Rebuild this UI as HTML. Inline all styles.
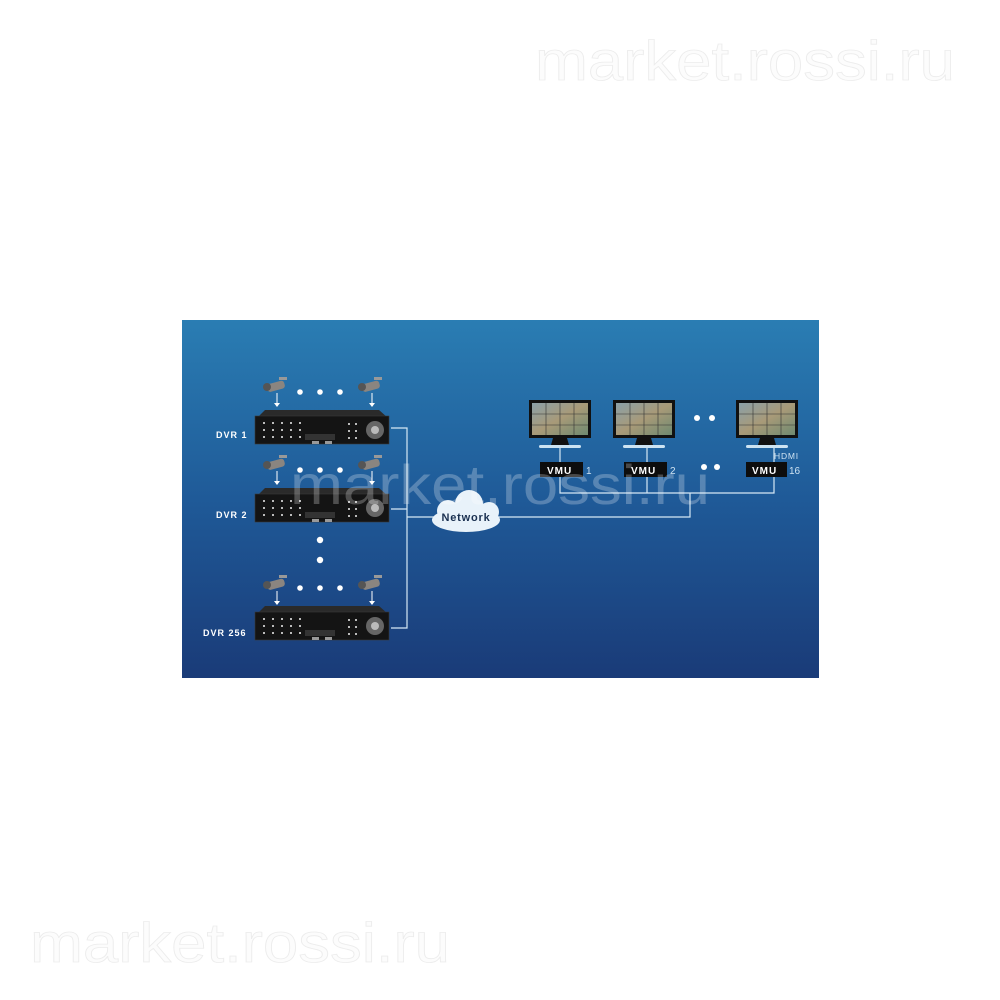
<!DOCTYPE html>
<html><head><meta charset="utf-8"><style>
html,body{margin:0;padding:0;background:#fff;width:1000px;height:1000px;overflow:hidden}
svg{display:block}
</style></head><body>
<svg width="1000" height="1000" viewBox="0 0 1000 1000" xmlns="http://www.w3.org/2000/svg" font-family="Liberation Sans, sans-serif">
<defs>
<linearGradient id="bg" x1="0" y1="0" x2="0" y2="1">
<stop offset="0" stop-color="#2a7db3"/><stop offset="0.5" stop-color="#1f5a98"/><stop offset="1" stop-color="#1a3b78"/>
</linearGradient>
<linearGradient id="scr" x1="0" y1="0" x2="1" y2="1">
<stop offset="0" stop-color="#8aa0a8"/><stop offset="0.5" stop-color="#a89a78"/><stop offset="1" stop-color="#6f8a70"/>
</linearGradient>
<g id="dvr">
<polygon points="2,8 10,0 124,0 133,8" fill="#2a2a2a"/>
<rect x="0" y="6" width="134" height="28" fill="#141414" stroke="#3a3a3a" stroke-width="0.6"/>
<g fill="#bbb">
<rect x="8" y="12" width="2" height="2"/><rect x="17" y="12" width="2" height="2"/><rect x="26" y="12" width="2" height="2"/><rect x="35" y="12" width="2" height="2"/><rect x="44" y="12" width="2" height="2"/>
<rect x="8" y="19" width="2" height="2"/><rect x="17" y="19" width="2" height="2"/><rect x="26" y="19" width="2" height="2"/><rect x="35" y="19" width="2" height="2"/><rect x="44" y="19" width="2" height="2"/>
<rect x="8" y="26" width="2" height="2"/><rect x="17" y="26" width="2" height="2"/><rect x="26" y="26" width="2" height="2"/><rect x="35" y="26" width="2" height="2"/><rect x="44" y="26" width="2" height="2"/>
<rect x="93" y="13" width="2" height="2"/><rect x="100" y="13" width="2" height="2"/><rect x="93" y="20" width="2" height="2"/><rect x="100" y="20" width="2" height="2"/><rect x="93" y="27" width="2" height="2"/><rect x="100" y="27" width="2" height="2"/>
</g>
<rect x="50" y="24" width="30" height="6" fill="#333"/>
<rect x="57" y="31" width="7" height="3" fill="#999"/><rect x="70" y="31" width="7" height="3" fill="#999"/>
<circle cx="120" cy="20" r="9" fill="#666"/><circle cx="120" cy="20" r="4" fill="#bbb"/>
</g>
<g id="cam">
<rect x="-10" y="-5" width="18" height="8" rx="3" fill="#8a8580" transform="rotate(-15)"/>
<circle cx="-10" cy="0" r="4" fill="#555"/>
<rect x="2" y="-10" width="8" height="3" fill="#999"/>
<line x1="0" y1="6" x2="0" y2="18" stroke="#fff" stroke-width="1"/>
<polygon points="-3,16 3,16 0,20" fill="#fff"/>
</g>
<g id="mon">
<rect x="0" y="0" width="62" height="38" fill="#111"/>
<rect x="3" y="3" width="56" height="32" fill="url(#scr)"/>
<g stroke="#333" stroke-width="0.6"><line x1="17" y1="3" x2="17" y2="35"/><line x1="31" y1="3" x2="31" y2="35"/><line x1="45" y1="3" x2="45" y2="35"/><line x1="3" y1="14" x2="59" y2="14"/><line x1="3" y1="25" x2="59" y2="25"/></g>
<polygon points="24,38 38,38 40,45 22,45" fill="#111"/>
<rect x="10" y="45" width="42" height="3" rx="1.5" fill="#cde3f2"/>
</g>
</defs>
<rect x="182" y="320" width="637" height="358" fill="url(#bg)"/>
<g stroke="#d6e8f5" stroke-width="1.2" fill="none">
<path d="M391 428 H407 V628 H391 M391 509 H407 M407 517 H440"/>
<path d="M498 517 H690 V493 M560 448 V493 H774 V445 M647 448 V493"/>
</g>
<use href="#dvr" x="255" y="410"/>
<use href="#dvr" x="255" y="488"/>
<use href="#dvr" x="255" y="606"/>
<g font-weight="bold" font-size="9" fill="#fff" letter-spacing="1">
<text x="216" y="438">DVR 1</text><text x="216" y="518">DVR 2</text><text x="203" y="636">DVR 256</text>
</g>
<use href="#cam" x="277" y="387"/><use href="#cam" x="372" y="387"/>
<use href="#cam" x="277" y="465"/><use href="#cam" x="372" y="465"/>
<use href="#cam" x="277" y="585"/><use href="#cam" x="372" y="585"/>
<g fill="#fff">
<circle cx="300" cy="392" r="2.8"/><circle cx="320" cy="392" r="2.8"/><circle cx="340" cy="392" r="2.8"/>
<circle cx="300" cy="470" r="2.8"/><circle cx="320" cy="470" r="2.8"/><circle cx="340" cy="470" r="2.8"/>
<circle cx="300" cy="588" r="2.8"/><circle cx="320" cy="588" r="2.8"/><circle cx="340" cy="588" r="2.8"/>
<circle cx="320" cy="540" r="3.2"/><circle cx="320" cy="560" r="3.2"/>
<circle cx="697" cy="418" r="3"/><circle cx="712" cy="418" r="3"/>
<circle cx="704" cy="467" r="3"/><circle cx="717" cy="467" r="3"/>
</g>
<g fill="#e8f2fa">
<ellipse cx="466" cy="520" rx="34" ry="12"/><circle cx="448" cy="511" r="11"/><circle cx="469" cy="504" r="14"/><circle cx="489" cy="512" r="10"/>
</g>
<text x="466" y="521" font-size="11" font-weight="bold" fill="#1a3050" text-anchor="middle" letter-spacing="0.8">Network</text>
<use href="#mon" x="529" y="400"/><use href="#mon" x="613" y="400"/><use href="#mon" x="736" y="400"/>
<g>
<rect x="540" y="462" width="43" height="15" fill="#0d0d0d"/><rect x="624" y="462" width="43" height="15" fill="#0d0d0d"/><rect x="746" y="462" width="41" height="15" fill="#0d0d0d"/>
</g>
<g font-size="10" font-weight="bold" fill="#fff" letter-spacing="1">
<text x="547" y="474">VMU</text><text x="631" y="474">VMU</text><text x="752" y="474">VMU</text>
</g>
<g font-size="10" fill="#cfe3f2">
<text x="586" y="474">1</text><text x="670" y="474">2</text><text x="789" y="474">16</text>
<text x="774" y="459" font-size="8.5" letter-spacing="0.8">HDMI</text>
</g>
<g font-size="56" fill="#ffffff" fill-opacity="0.25">
<text x="290" y="504" textLength="420" lengthAdjust="spacingAndGlyphs">market.rossi.ru</text>
</g>
<g font-size="56" fill="#fcfcfc" stroke="#ececec" stroke-width="0.8">
<text x="535" y="80" textLength="420" lengthAdjust="spacingAndGlyphs">market.rossi.ru</text>
<text x="30" y="962" textLength="420" lengthAdjust="spacingAndGlyphs">market.rossi.ru</text>
</g>
</svg>
</body></html>
